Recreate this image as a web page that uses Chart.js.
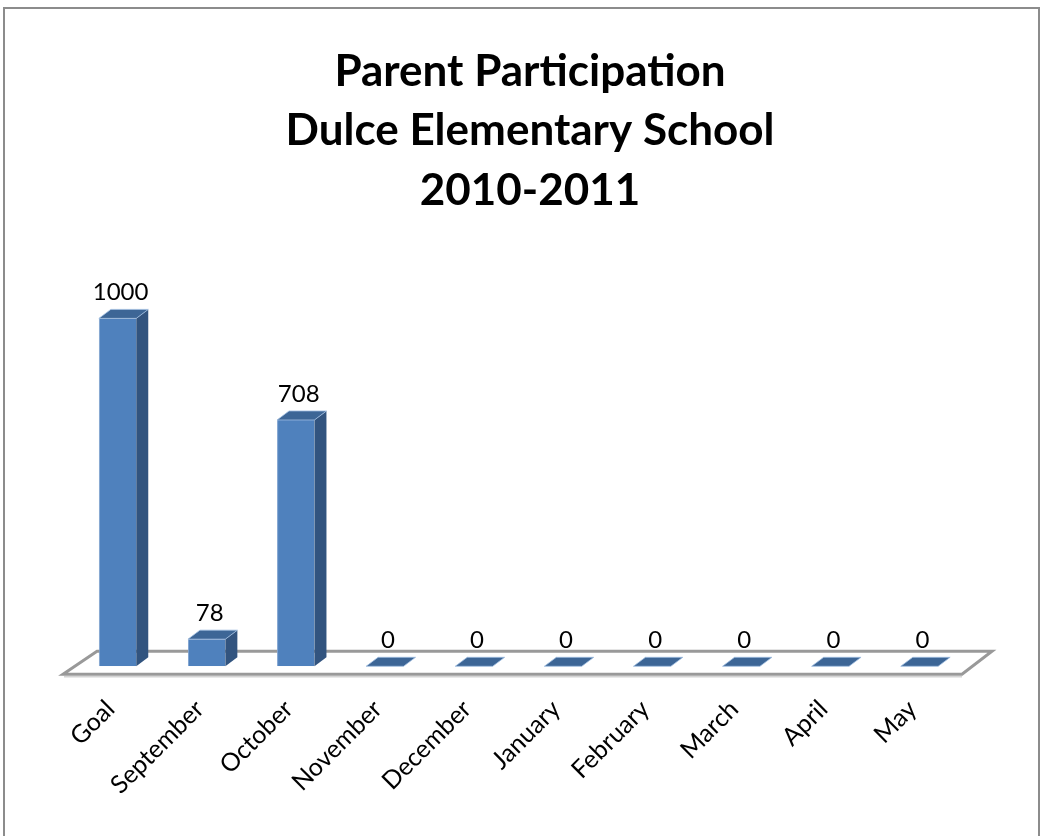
<!DOCTYPE html>
<html>
<head>
<meta charset="utf-8">
<script src="https://cdn.jsdelivr.net/npm/chart.js@4"></script>
<style>
  html, body { margin: 0; padding: 0; background: #fff; }
  canvas { display: block; }
</style>
</head>
<body>
<canvas id="chart" width="1042" height="836"></canvas>
<script>
// chart data
const categories = ['Goal', 'September', 'October', 'November', 'December',
    'January', 'February', 'March', 'April', 'May'];
const participants = [1000, 78, 708, 0, 0, 0, 0, 0, 0, 0];
const titleLines = ['Parent Participation', 'Dulce Elementary School', '2010-2011'];

const DX = 12, DY = 9; // 3d depth of the bars

// page frame + floor of the 3d chart
const floorPlugin = {
    id: 'floor',
    beforeDraw(chart) {
        const ctx = chart.ctx;
        ctx.save();
        ctx.strokeStyle = '#8c8c8c';
        ctx.lineWidth = 2;
        ctx.beginPath();
        ctx.moveTo(4, 836);
        ctx.lineTo(4, 8);
        ctx.lineTo(1039, 8);
        ctx.lineTo(1039, 836);
        ctx.stroke();
        ctx.restore();
    },
    beforeDatasetsDraw(chart) {
        const { ctx, chartArea } = chart;
        const b = chartArea.bottom;
        const l = chartArea.left, r = chartArea.right;
        ctx.save();
        ctx.beginPath();
        ctx.moveTo(l - 10, b + 8);
        ctx.lineTo(r - 2, b + 8);
        ctx.lineTo(r + 28, b - 15);
        ctx.lineTo(l + 24, b - 15);
        ctx.closePath();
        ctx.fillStyle = '#ffffff';
        ctx.fill();
        ctx.strokeStyle = '#999999';
        ctx.lineWidth = 3;
        ctx.stroke();
        ctx.strokeStyle = '#d4d4d4';
        ctx.lineWidth = 1.5;
        ctx.beginPath();
        ctx.moveTo(l - 9, b + 10.5);
        ctx.lineTo(r - 2, b + 10.5);
        ctx.stroke();
        ctx.restore();
    }
};

// sides, tops and value labels of the bars
const bar3dPlugin = {
    id: 'bar3d',
    afterDatasetsDraw(chart) {
        const ctx = chart.ctx;
        const meta = chart.getDatasetMeta(0);
        ctx.save();
        meta.data.forEach((bar, i) => {
            const { x, y, base, width } = bar.getProps(['x', 'y', 'base', 'width'], true);
            const l = x - width / 2, r = x + width / 2;
            // right side
            ctx.fillStyle = '#32547f';
            ctx.beginPath();
            ctx.moveTo(r, y);
            ctx.lineTo(r + DX, y - DY);
            ctx.lineTo(r + DX, base - DY);
            ctx.lineTo(r, base);
            ctx.closePath();
            ctx.fill();
            // top
            ctx.fillStyle = '#3d6696';
            ctx.beginPath();
            ctx.moveTo(l, y);
            ctx.lineTo(l + DX, y - DY);
            ctx.lineTo(r + DX, y - DY);
            ctx.lineTo(r, y);
            ctx.closePath();
            ctx.fill();
            ctx.strokeStyle = 'rgba(160,190,225,0.8)';
            ctx.lineWidth = 1;
            ctx.stroke();
            // value label
            ctx.fillStyle = '#000';
            ctx.font = '24px Lato';
            ctx.textAlign = 'center';
            ctx.textBaseline = 'alphabetic';
            ctx.fillText(String(participants[i]), x + 3, y - DY - 9);
        });
        ctx.restore();
    }
};

// invisible side axes, only used to place the plot area
const spacer = w => ({
    display: true,
    min: 0,
    max: 1150,
    grid: { display: false },
    border: { display: false },
    ticks: { display: false },
    afterFit(axis) { axis.width = w; }
});

new Chart(document.getElementById('chart'), {
    type: 'bar',
    data: {
        labels: categories,
        datasets: [{
            data: participants,
            backgroundColor: '#4f81bd',
            borderColor: '#7fa3d0',
            borderWidth: { left: 1, bottom: 1 },
            barPercentage: 0.42,
            categoryPercentage: 1
        }]
    },
    options: {
        responsive: false,
        devicePixelRatio: 1,
        animation: false,
        layout: { padding: { left: 18, right: 0, top: 0, bottom: 16 } },
        plugins: {
            legend: { display: false },
            tooltip: { enabled: false },
            title: {
                display: true,
                text: titleLines,
                color: '#000',
                font: { family: 'Lato', size: 44, weight: 'bold', lineHeight: 1.35 },
                padding: { top: 42, bottom: 46 }
            }
        },
        scales: {
            x: {
                grid: { display: false },
                border: { display: false },
                ticks: {
                    minRotation: 45,
                    maxRotation: 45,
                    color: '#000',
                    font: { family: 'Lato', size: 25 },
                    padding: 20,
                    labelOffset: -7
                }
            },
            y: Object.assign(spacer(55), { position: 'left' }),
            y2: Object.assign(spacer(78), { position: 'right' })
        }
    },
    plugins: [floorPlugin, bar3dPlugin]
});
</script>
</body>
</html>
